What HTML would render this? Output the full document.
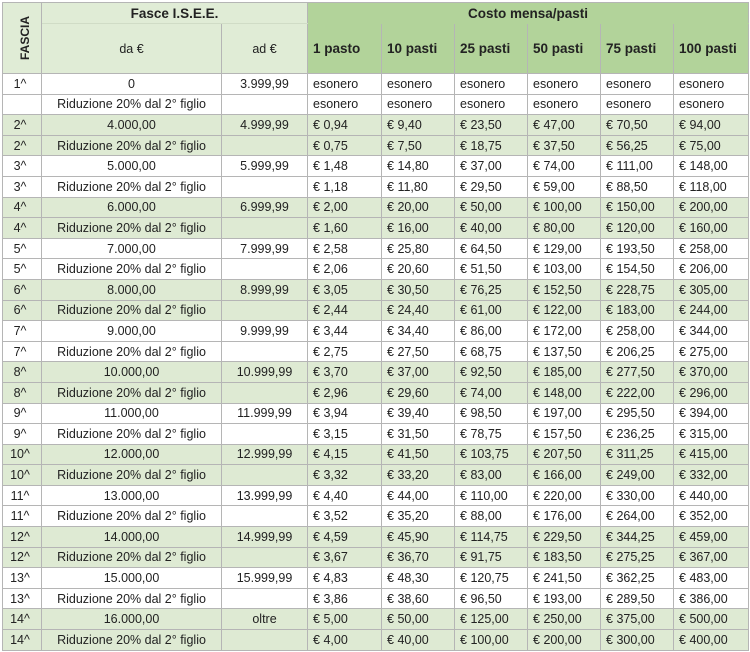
<!DOCTYPE html>
<html><head><meta charset="utf-8"><style>
html,body{margin:0;padding:0;background:#fff;}
table{position:absolute;left:2px;top:2px;border-collapse:collapse;table-layout:fixed;width:746px;font-family:"Liberation Sans",sans-serif;font-size:12.5px;color:#222;}
td,th{border:1px solid #b5b5b5;padding:0;overflow:hidden;white-space:nowrap;}
th{font-weight:bold;font-size:13.5px;}
tr.d td{height:19.6px;}
tr.g td{background:#deead3;}
td.f{text-align:center;padding-right:4px;}
td.c{text-align:center;}
td.v{padding-left:5px;}
th.lg{background:#e0ecd6;font-weight:normal;font-size:12.5px;}
th.dg{background:#b2d39a;text-align:left;padding-left:5px;}
th.dt{background:#b2d39a;}
.rot{display:inline-block;transform:rotate(-90deg);font-size:12px;font-weight:bold;}
table{border:1px solid #999;}
</style></head><body>
<table>
<colgroup><col style="width:39px"><col style="width:180px"><col style="width:86px"><col style="width:74px"><col style="width:73px"><col style="width:73px"><col style="width:73px"><col style="width:73px"><col style="width:75px"></colgroup>
<tr style="height:21px"><th rowspan="2" class="lg" style="font-weight:bold"><span class="rot">FASCIA</span></th><th colspan="2" class="lg" style="font-weight:bold;font-size:13.5px;border-bottom-color:#d0dcc6">Fasce I.S.E.E.</th><th colspan="6" class="dt" style="border-bottom-color:#b2d39a">Costo mensa/pasti</th></tr>
<tr style="height:50px"><th class="lg">da €</th><th class="lg">ad €</th><th class="dg">1 pasto</th><th class="dg">10 pasti</th><th class="dg">25 pasti</th><th class="dg">50 pasti</th><th class="dg">75 pasti</th><th class="dg">100 pasti</th></tr>
<tr class="d"><td class="f">1^</td><td class="c">0</td><td class="c">3.999,99</td><td class="v">esonero</td><td class="v">esonero</td><td class="v">esonero</td><td class="v">esonero</td><td class="v">esonero</td><td class="v">esonero</td></tr>
<tr class="d"><td class="f"></td><td class="c">Riduzione 20% dal 2° figlio</td><td></td><td class="v">esonero</td><td class="v">esonero</td><td class="v">esonero</td><td class="v">esonero</td><td class="v">esonero</td><td class="v">esonero</td></tr>
<tr class="d g"><td class="f">2^</td><td class="c">4.000,00</td><td class="c">4.999,99</td><td class="v">€ 0,94</td><td class="v">€ 9,40</td><td class="v">€ 23,50</td><td class="v">€ 47,00</td><td class="v">€ 70,50</td><td class="v">€ 94,00</td></tr>
<tr class="d g"><td class="f">2^</td><td class="c">Riduzione 20% dal 2° figlio</td><td></td><td class="v">€ 0,75</td><td class="v">€ 7,50</td><td class="v">€ 18,75</td><td class="v">€ 37,50</td><td class="v">€ 56,25</td><td class="v">€ 75,00</td></tr>
<tr class="d"><td class="f">3^</td><td class="c">5.000,00</td><td class="c">5.999,99</td><td class="v">€ 1,48</td><td class="v">€ 14,80</td><td class="v">€ 37,00</td><td class="v">€ 74,00</td><td class="v">€ 111,00</td><td class="v">€ 148,00</td></tr>
<tr class="d"><td class="f">3^</td><td class="c">Riduzione 20% dal 2° figlio</td><td></td><td class="v">€ 1,18</td><td class="v">€ 11,80</td><td class="v">€ 29,50</td><td class="v">€ 59,00</td><td class="v">€ 88,50</td><td class="v">€ 118,00</td></tr>
<tr class="d g"><td class="f">4^</td><td class="c">6.000,00</td><td class="c">6.999,99</td><td class="v">€ 2,00</td><td class="v">€ 20,00</td><td class="v">€ 50,00</td><td class="v">€ 100,00</td><td class="v">€ 150,00</td><td class="v">€ 200,00</td></tr>
<tr class="d g"><td class="f">4^</td><td class="c">Riduzione 20% dal 2° figlio</td><td></td><td class="v">€ 1,60</td><td class="v">€ 16,00</td><td class="v">€ 40,00</td><td class="v">€ 80,00</td><td class="v">€ 120,00</td><td class="v">€ 160,00</td></tr>
<tr class="d"><td class="f">5^</td><td class="c">7.000,00</td><td class="c">7.999,99</td><td class="v">€ 2,58</td><td class="v">€ 25,80</td><td class="v">€ 64,50</td><td class="v">€ 129,00</td><td class="v">€ 193,50</td><td class="v">€ 258,00</td></tr>
<tr class="d"><td class="f">5^</td><td class="c">Riduzione 20% dal 2° figlio</td><td></td><td class="v">€ 2,06</td><td class="v">€ 20,60</td><td class="v">€ 51,50</td><td class="v">€ 103,00</td><td class="v">€ 154,50</td><td class="v">€ 206,00</td></tr>
<tr class="d g"><td class="f">6^</td><td class="c">8.000,00</td><td class="c">8.999,99</td><td class="v">€ 3,05</td><td class="v">€ 30,50</td><td class="v">€ 76,25</td><td class="v">€ 152,50</td><td class="v">€ 228,75</td><td class="v">€ 305,00</td></tr>
<tr class="d g"><td class="f">6^</td><td class="c">Riduzione 20% dal 2° figlio</td><td></td><td class="v">€ 2,44</td><td class="v">€ 24,40</td><td class="v">€ 61,00</td><td class="v">€ 122,00</td><td class="v">€ 183,00</td><td class="v">€ 244,00</td></tr>
<tr class="d"><td class="f">7^</td><td class="c">9.000,00</td><td class="c">9.999,99</td><td class="v">€ 3,44</td><td class="v">€ 34,40</td><td class="v">€ 86,00</td><td class="v">€ 172,00</td><td class="v">€ 258,00</td><td class="v">€ 344,00</td></tr>
<tr class="d"><td class="f">7^</td><td class="c">Riduzione 20% dal 2° figlio</td><td></td><td class="v">€ 2,75</td><td class="v">€ 27,50</td><td class="v">€ 68,75</td><td class="v">€ 137,50</td><td class="v">€ 206,25</td><td class="v">€ 275,00</td></tr>
<tr class="d g"><td class="f">8^</td><td class="c">10.000,00</td><td class="c">10.999,99</td><td class="v">€ 3,70</td><td class="v">€ 37,00</td><td class="v">€ 92,50</td><td class="v">€ 185,00</td><td class="v">€ 277,50</td><td class="v">€ 370,00</td></tr>
<tr class="d g"><td class="f">8^</td><td class="c">Riduzione 20% dal 2° figlio</td><td></td><td class="v">€ 2,96</td><td class="v">€ 29,60</td><td class="v">€ 74,00</td><td class="v">€ 148,00</td><td class="v">€ 222,00</td><td class="v">€ 296,00</td></tr>
<tr class="d"><td class="f">9^</td><td class="c">11.000,00</td><td class="c">11.999,99</td><td class="v">€ 3,94</td><td class="v">€ 39,40</td><td class="v">€ 98,50</td><td class="v">€ 197,00</td><td class="v">€ 295,50</td><td class="v">€ 394,00</td></tr>
<tr class="d"><td class="f">9^</td><td class="c">Riduzione 20% dal 2° figlio</td><td></td><td class="v">€ 3,15</td><td class="v">€ 31,50</td><td class="v">€ 78,75</td><td class="v">€ 157,50</td><td class="v">€ 236,25</td><td class="v">€ 315,00</td></tr>
<tr class="d g"><td class="f">10^</td><td class="c">12.000,00</td><td class="c">12.999,99</td><td class="v">€ 4,15</td><td class="v">€ 41,50</td><td class="v">€ 103,75</td><td class="v">€ 207,50</td><td class="v">€ 311,25</td><td class="v">€ 415,00</td></tr>
<tr class="d g"><td class="f">10^</td><td class="c">Riduzione 20% dal 2° figlio</td><td></td><td class="v">€ 3,32</td><td class="v">€ 33,20</td><td class="v">€ 83,00</td><td class="v">€ 166,00</td><td class="v">€ 249,00</td><td class="v">€ 332,00</td></tr>
<tr class="d"><td class="f">11^</td><td class="c">13.000,00</td><td class="c">13.999,99</td><td class="v">€ 4,40</td><td class="v">€ 44,00</td><td class="v">€ 110,00</td><td class="v">€ 220,00</td><td class="v">€ 330,00</td><td class="v">€ 440,00</td></tr>
<tr class="d"><td class="f">11^</td><td class="c">Riduzione 20% dal 2° figlio</td><td></td><td class="v">€ 3,52</td><td class="v">€ 35,20</td><td class="v">€ 88,00</td><td class="v">€ 176,00</td><td class="v">€ 264,00</td><td class="v">€ 352,00</td></tr>
<tr class="d g"><td class="f">12^</td><td class="c">14.000,00</td><td class="c">14.999,99</td><td class="v">€ 4,59</td><td class="v">€ 45,90</td><td class="v">€ 114,75</td><td class="v">€ 229,50</td><td class="v">€ 344,25</td><td class="v">€ 459,00</td></tr>
<tr class="d g"><td class="f">12^</td><td class="c">Riduzione 20% dal 2° figlio</td><td></td><td class="v">€ 3,67</td><td class="v">€ 36,70</td><td class="v">€ 91,75</td><td class="v">€ 183,50</td><td class="v">€ 275,25</td><td class="v">€ 367,00</td></tr>
<tr class="d"><td class="f">13^</td><td class="c">15.000,00</td><td class="c">15.999,99</td><td class="v">€ 4,83</td><td class="v">€ 48,30</td><td class="v">€ 120,75</td><td class="v">€ 241,50</td><td class="v">€ 362,25</td><td class="v">€ 483,00</td></tr>
<tr class="d"><td class="f">13^</td><td class="c">Riduzione 20% dal 2° figlio</td><td></td><td class="v">€ 3,86</td><td class="v">€ 38,60</td><td class="v">€ 96,50</td><td class="v">€ 193,00</td><td class="v">€ 289,50</td><td class="v">€ 386,00</td></tr>
<tr class="d g"><td class="f">14^</td><td class="c">16.000,00</td><td class="c">oltre</td><td class="v">€ 5,00</td><td class="v">€ 50,00</td><td class="v">€ 125,00</td><td class="v">€ 250,00</td><td class="v">€ 375,00</td><td class="v">€ 500,00</td></tr>
<tr class="d g"><td class="f">14^</td><td class="c">Riduzione 20% dal 2° figlio</td><td></td><td class="v">€ 4,00</td><td class="v">€ 40,00</td><td class="v">€ 100,00</td><td class="v">€ 200,00</td><td class="v">€ 300,00</td><td class="v">€ 400,00</td></tr>
</table>
</body></html>
